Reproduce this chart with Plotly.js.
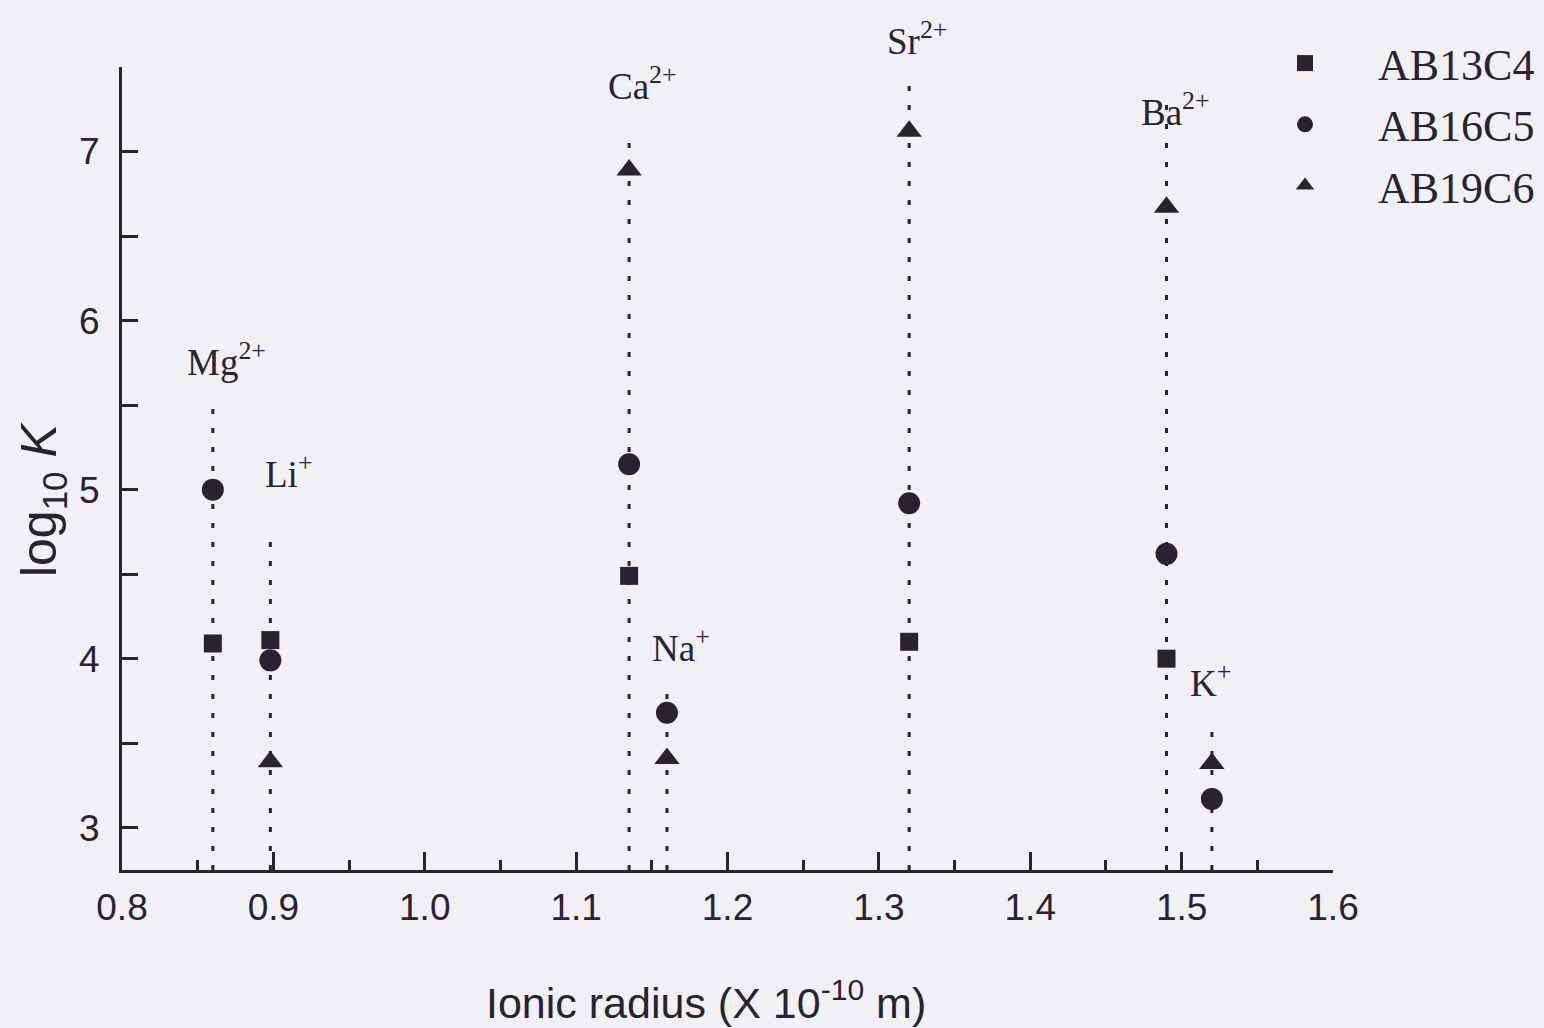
<!DOCTYPE html>
<html>
<head>
<meta charset="utf-8">
<script src="https://cdn.plot.ly/plotly-3.0.1.min.js"></script>
<style>
html,body{margin:0;padding:0;background:#f1f1f5;}
#chart{width:1544px;height:1028px;}
</style>
</head>
<body>
<div id="chart"></div>
<script>
// ---- data ----
const ions      = ['Mg<sup>2+</sup>', 'Li<sup>+</sup>', 'Ca<sup>2+</sup>', 'Na<sup>+</sup>', 'Sr<sup>2+</sup>', 'Ba<sup>2+</sup>', 'K<sup>+</sup>'];
const radius    = [0.86, 0.898, 1.135, 1.16, 1.32, 1.49, 1.52];
const AB13C4    = [4.09, 4.11, 4.49, null, 4.10, 4.00, null];
const AB16C5    = [5.00, 3.99, 5.15, 3.68, 4.92, 4.62, 3.17];
const AB19C6    = [null, 3.39, 6.89, 3.41, 7.12, 6.67, 3.38];
// top end of each dotted guide line (log10 K units)
const guideTop  = [5.55, 4.71, 7.09, 3.86, 7.40, 7.28, 3.61];
// ion label anchor (data units)
const labelX    = [0.869, 0.91, 1.144, 1.169, 1.325, 1.496, 1.519];
const labelY    = [5.77, 5.11, 7.40, 4.08, 7.67, 7.25, 3.87];
const seriesNames = ['AB13C4', 'AB16C5', 'AB19C6'];
const xTickVals = [0.8, 0.9, 1.0, 1.1, 1.2, 1.3, 1.4, 1.5, 1.6];
const yTickVals = [3, 4, 5, 6, 7];
const xTitle = 'Ionic radius (X 10<sup>-10</sup> m)';
const yTitle = 'log<sub>10</sub> <i>K</i>';

const ink = '#2a2230';
const xRange = [0.8, 1.6];
const yRange = [2.75, 7.5];
const serif = 'Liberation Serif, Times New Roman, serif';
const sans = 'Liberation Sans, Arial, sans-serif';

// dotted guide lines built from the arrays
const gx = [], gy = [];
radius.forEach((r, i) => { gx.push(r, r, null); gy.push(yRange[0], guideTop[i], null); });

const traces = [
  {x: gx, y: gy, mode: 'lines', showlegend: false, hoverinfo: 'skip',
   line: {color: ink, width: 3, dash: '5px,14px'}},
  {x: radius, y: AB13C4, name: seriesNames[0], mode: 'markers', legendgroup: 'a',
   marker: {symbol: 'square', size: 18, color: ink}},
  {x: radius, y: AB16C5, name: seriesNames[1], mode: 'markers', legendgroup: 'b',
   marker: {symbol: 'circle', size: 22, color: ink}},
  {x: radius, y: AB19C6, name: seriesNames[2], mode: 'markers', legendgroup: 'c',
   marker: {symbol: 'triangle-up', size: 22, color: ink}}
];

// ion labels: positioned from their data values through the axis ranges
// (paper references so labels above the top of the y range still show)
const toPX = v => (v - xRange[0]) / (xRange[1] - xRange[0]);
const toPY = v => (v - yRange[0]) / (yRange[1] - yRange[0]);
const annotations = ions.map((t, i) => ({
  x: toPX(labelX[i]), y: toPY(labelY[i]), xref: 'paper', yref: 'paper',
  text: t, showarrow: false, xanchor: 'center', yanchor: 'middle',
  font: {family: serif, size: 37, color: ink}
}));
// axis titles
annotations.push({
  x: 0.482, y: -0.162, xref: 'paper', yref: 'paper', text: xTitle, showarrow: false,
  xanchor: 'center', yanchor: 'middle', font: {family: sans, size: 43, color: ink}
});
annotations.push({
  x: -0.066, y: 0.462, xref: 'paper', yref: 'paper', text: yTitle, showarrow: false,
  textangle: -90, xanchor: 'center', yanchor: 'middle', font: {family: sans, size: 50, color: ink}
});

const layout = {
  width: 1544, height: 1028,
  paper_bgcolor: '#f1f1f5', plot_bgcolor: '#f1f1f5',
  margin: {l: 122, r: 211, t: 67, b: 158, autoexpand: false},
  showlegend: true,
  legend: {
    xref: 'container', yref: 'container', x: 1232/1544, y: 1 - 28/1028,
    xanchor: 'left', yanchor: 'top', bgcolor: 'rgba(0,0,0,0)',
    font: {family: serif, size: 44, color: ink},
    tracegroupgap: 1, itemwidth: 136, traceorder: 'grouped'
  },
  xaxis: {
    range: xRange, showgrid: false, zeroline: false, automargin: false,
    showline: true, linecolor: ink, linewidth: 3,
    ticks: 'inside', ticklen: 18, tickwidth: 3, tickcolor: ink,
    tickvals: xTickVals, ticktext: xTickVals.map(v => v.toFixed(1)),
    minor: {dtick: 0.05, tick0: 0.8, ticks: 'inside', ticklen: 10, tickwidth: 3, tickcolor: ink, showgrid: false},
    ticklabelstandoff: 3,
    tickfont: {family: sans, size: 37, color: ink}
  },
  yaxis: {
    range: yRange, showgrid: false, zeroline: false, automargin: false,
    showline: true, linecolor: ink, linewidth: 3,
    ticks: 'inside', ticklen: 16, tickwidth: 3, tickcolor: ink,
    tickvals: yTickVals, ticktext: yTickVals.map(String),
    minor: {dtick: 0.5, tick0: 3, ticks: 'inside', ticklen: 16, tickwidth: 3, tickcolor: ink, showgrid: false},
    ticklabelstandoff: 12,
    tickfont: {family: sans, size: 37, color: ink}
  },
  annotations: annotations
};

Plotly.newPlot('chart', traces, layout, {displayModeBar: false, staticPlot: true});
</script>
</body>
</html>
